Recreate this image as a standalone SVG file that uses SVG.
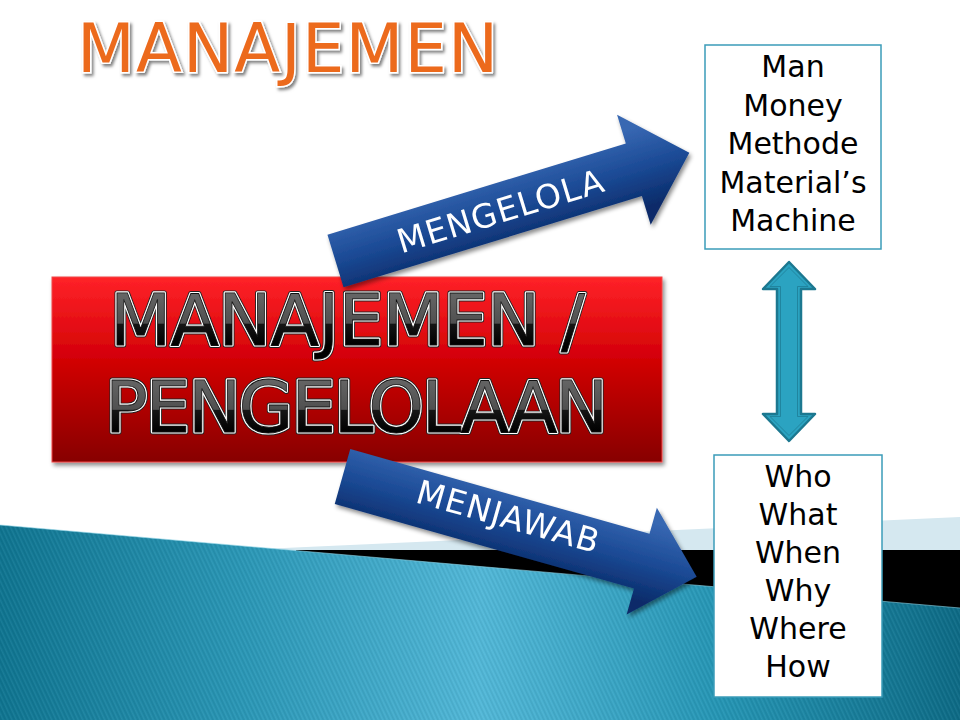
<svg xmlns="http://www.w3.org/2000/svg" xmlns:xlink="http://www.w3.org/1999/xlink" width="960" height="720" viewBox="0 0 960 720">
<style>
  .sans { font-family: "DejaVu Sans", "Liberation Sans", sans-serif; }
  .title { font-size: 67px; fill: #EC6A1F; stroke: #ffffff; stroke-width: 3; paint-order: stroke; }
  .big { font-size: 71px; }
  .outl1 { fill: none; stroke: #222222; stroke-width: 5; stroke-linejoin: round; }
  .outl2 { fill: none; stroke: #ffffff; stroke-width: 3.2; stroke-linejoin: round; }
  .boxtxt { font-size: 30px; fill: #000000; text-anchor: middle; }
  .arrowtxt { font-size: 33px; fill: #ffffff; text-anchor: middle; }
  .box { fill: #ffffff; stroke: #3B9CB9; stroke-width: 1.5; }
  .blue { fill: url(#blueGrad); }
</style>
<defs>
  <linearGradient id="tealGrad" x1="0" y1="0" x2="960" y2="0" gradientUnits="userSpaceOnUse">
    <stop offset="0" stop-color="#0F7591"/>
    <stop offset="0.25" stop-color="#2A97B6"/>
    <stop offset="0.5" stop-color="#52B8D8"/>
    <stop offset="0.75" stop-color="#2596B5"/>
    <stop offset="1" stop-color="#0D6B86"/>
  </linearGradient>
  <pattern id="stripes" width="4" height="8" patternUnits="userSpaceOnUse" patternTransform="rotate(-25)">
    <rect x="0" y="0" width="1.5" height="8" fill="#000000" fill-opacity="0.06"/>
    <rect x="2" y="0" width="1.2" height="8" fill="#ffffff" fill-opacity="0.05"/>
  </pattern>
  <linearGradient id="redGrad" x1="0" y1="0" x2="0" y2="1">
    <stop offset="0" stop-color="#FF2228"/>
    <stop offset="0.45" stop-color="#D20006"/>
    <stop offset="1" stop-color="#870000"/>
  </linearGradient>
  <linearGradient id="txtGrad1" x1="0" y1="293" x2="0" y2="345" gradientUnits="userSpaceOnUse">
    <stop offset="0" stop-color="#666666"/>
    <stop offset="0.58" stop-color="#505050"/>
    <stop offset="0.6" stop-color="#151515"/>
    <stop offset="1" stop-color="#000000"/>
  </linearGradient>
  <linearGradient id="txtGrad2" x1="0" y1="378" x2="0" y2="432" gradientUnits="userSpaceOnUse">
    <stop offset="0" stop-color="#666666"/>
    <stop offset="0.58" stop-color="#505050"/>
    <stop offset="0.6" stop-color="#151515"/>
    <stop offset="1" stop-color="#000000"/>
  </linearGradient>
  <linearGradient id="blueGrad" x1="0" y1="-40" x2="0" y2="40" gradientUnits="userSpaceOnUse">
    <stop offset="0" stop-color="#3767B2"/>
    <stop offset="0.5" stop-color="#1B4A95"/>
    <stop offset="1" stop-color="#0A2B69"/>
  </linearGradient>
  <filter id="shadow" x="-10%" y="-10%" width="130%" height="140%">
    <feDropShadow dx="2" dy="3" stdDeviation="2" flood-color="#000000" flood-opacity="0.45"/>
  </filter>
  <filter id="tshadow" x="-5%" y="-10%" width="115%" height="140%">
    <feDropShadow dx="2" dy="2.5" stdDeviation="1.5" flood-color="#000000" flood-opacity="0.5"/>
  </filter>
  <text id="line1" class="sans big" x="110" y="345" textLength="475" lengthAdjust="spacing">MANAJEMEN /</text>
  <text id="line2" class="sans big" x="105" y="432" textLength="503" lengthAdjust="spacing">PENGELOLAAN</text>
</defs>

<rect x="0" y="0" width="960" height="720" fill="#ffffff"/>

<g id="background">
  <polygon points="262,549 960,517 960,720 262,720" fill="#D5E8F0"/>
  <polygon points="296,550 960,550 960,720 296,720" fill="#000000"/>
  <polygon points="0,525 960,608 960,720 0,720" fill="url(#tealGrad)"/>
  <polygon points="0,525 960,608 960,720 0,720" fill="url(#stripes)"/>
  <line x1="0" y1="525" x2="960" y2="608" stroke="#8FD3E6" stroke-width="1" stroke-opacity="0.6"/>
</g>

<g id="title" filter="url(#tshadow)">
  <text class="sans title" x="77" y="72" textLength="421" lengthAdjust="spacing">MANAJEMEN</text>
</g>

<g id="node-manajemen">
  <rect x="52" y="277" width="610" height="185" fill="url(#redGrad)" stroke="#F04848" stroke-width="1" filter="url(#shadow)"/>
  <use xlink:href="#line1" class="outl1"/>
  <use xlink:href="#line1" class="outl2"/>
  <use xlink:href="#line1" fill="url(#txtGrad1)" stroke="#111111" stroke-width="0.8"/>
  <use xlink:href="#line2" class="outl1"/>
  <use xlink:href="#line2" class="outl2"/>
  <use xlink:href="#line2" fill="url(#txtGrad2)" stroke="#111111" stroke-width="0.8"/>
</g>

<g id="node-5m">
  <rect class="box" x="705" y="45" width="176" height="204"/>
  <text class="sans boxtxt" x="793" y="77">Man</text>
  <text class="sans boxtxt" x="793" y="115.5">Money</text>
  <text class="sans boxtxt" x="793" y="154">Methode</text>
  <text class="sans boxtxt" x="793" y="192.5">Material’s</text>
  <text class="sans boxtxt" x="793" y="231">Machine</text>
</g>

<g id="node-5w1h">
  <rect class="box" x="714" y="455" width="168" height="242"/>
  <text class="sans boxtxt" x="798" y="487">Who</text>
  <text class="sans boxtxt" x="798" y="525">What</text>
  <text class="sans boxtxt" x="798" y="563">When</text>
  <text class="sans boxtxt" x="798" y="601">Why</text>
  <text class="sans boxtxt" x="798" y="639">Where</text>
  <text class="sans boxtxt" x="798" y="677">How</text>
</g>

<g id="connectors">
  <g id="arrow-mengelola" filter="url(#shadow)">
    <g transform="translate(335.5,261) rotate(-17)">
      <polygon class="blue" points="0,-27.5 312,-27.5 312,-57.5 370,0 312,57.5 312,27.5 0,27.5"/>
      <text class="sans arrowtxt" x="172" y="12" textLength="214" lengthAdjust="spacing">MENGELOLA</text>
    </g>
  </g>
  <g id="arrow-menjawab" filter="url(#shadow)">
    <g transform="translate(342.5,476.5) rotate(15.8)">
      <polygon class="blue" points="0,-28.5 311,-28.5 311,-55.5 368,0 311,55.5 311,28.5 0,28.5"/>
      <text class="sans arrowtxt" x="170" y="5" textLength="188" lengthAdjust="spacing">MENJAWAB</text>
    </g>
  </g>
  <g id="arrow-double">
    <path d="M789,262 L815,289 L801,289 L801,414 L815,414 L789,441 L763,414 L777,414 L777,289 L763,289 Z" fill="#2BA3C1" stroke="#1C7890" stroke-width="2.5" stroke-linejoin="round"/>
    <path d="M789,267.5 L808,286.5 L797.5,286.5 L797.5,416.5 L808,416.5 L789,435.5 L770,416.5 L780.5,416.5 L780.5,286.5 L770,286.5 Z" fill="none" stroke="#1C7890" stroke-width="1" stroke-opacity="0.7" stroke-linejoin="round"/>
  </g>
</g>
</svg>
